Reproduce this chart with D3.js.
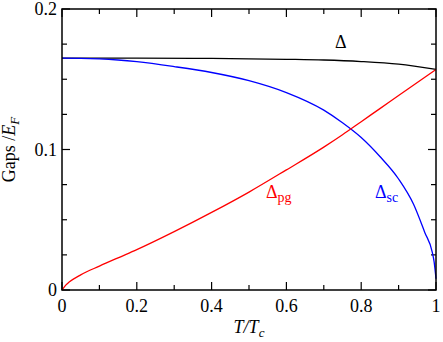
<!DOCTYPE html>
<html>
<head>
<meta charset="utf-8">
<script src="https://cdn.jsdelivr.net/npm/d3@7"></script>
<style>
  body { margin: 0; background: #fff; }
</style>
</head>
<body>
<div id="chart"></div>
<script>
// values
var tDelta = [0, 0.2, 0.4, 0.6, 0.7, 0.8, 0.9, 1.0];
var delta  = [0.165, 0.165, 0.1648, 0.1642, 0.1637, 0.1626, 0.1607, 0.157];

var tSc   = [0, 0.05, 0.1, 0.15, 0.2, 0.3, 0.4, 0.5, 0.6, 0.7, 0.75, 0.8, 0.85, 0.9, 0.94, 0.97, 0.99, 0.995, 1.0];
var deltaSc = [0.165, 0.1649, 0.1645, 0.1637, 0.1625, 0.159, 0.1548, 0.149, 0.1405, 0.128, 0.119, 0.1085, 0.095, 0.079, 0.061, 0.041, 0.027, 0.02, 0.008];

var tPg   = [0, 0.01, 0.02, 0.05, 0.1, 0.15, 0.2, 0.3, 0.4, 0.5, 0.6, 0.7, 0.75, 0.8, 0.85, 0.9, 0.95, 1.0];
var deltaPg = [0, 0.0035, 0.0058, 0.0108, 0.017, 0.0229, 0.0287, 0.0415, 0.0552, 0.0697, 0.0855, 0.1017, 0.1105, 0.1198, 0.1291, 0.1384, 0.1477, 0.157];

var xMajor = [0, 0.2, 0.4, 0.6, 0.8, 1];
var xLabels = ['0', '0.2', '0.4', '0.6', '0.8', '1'];
var yMajor = [0, 0.1, 0.2];
var yLabels = ['0', '0.1', '0.2'];

var width = 443, height = 342,
    margin = {left: 62, right: 7, top: 9, bottom: 52};

var svg = d3.select('div#chart').append('svg')
    .attr('width', width)
    .attr('height', height)
    .attr('font-family', "'Liberation Serif', 'Times New Roman', 'DejaVu Serif', serif");

var x = d3.scaleLinear().domain([0, 1]).range([margin.left, width - margin.right]);
var y = d3.scaleLinear().domain([0, 0.2]).range([height - margin.bottom, margin.top]);

var x0 = x(0), x1 = x(1), y0 = y(0), y1 = y(0.2);

// ticks on all four sides, pointing inward
var xMinor = d3.range(0, 1.0001, 0.1);
var yMinor = d3.range(0, 0.2001, 0.025);
function isMajor(v, arr) { return arr.some(function (m) { return Math.abs(m - v) < 1e-6; }); }

var tk = svg.append('g').attr('stroke', '#000').attr('stroke-width', 1.2);
xMinor.forEach(function (v) {
    var len = isMajor(v, xMajor) ? 8 : 5;
    tk.append('line').attr('x1', x(v)).attr('x2', x(v)).attr('y1', y0).attr('y2', y0 - len);
    tk.append('line').attr('x1', x(v)).attr('x2', x(v)).attr('y1', y1).attr('y2', y1 + len);
});
yMinor.forEach(function (v) {
    var len = isMajor(v, yMajor) ? 8 : 5;
    tk.append('line').attr('x1', x0).attr('x2', x0 + len).attr('y1', y(v)).attr('y2', y(v));
    tk.append('line').attr('x1', x1).attr('x2', x1 - len).attr('y1', y(v)).attr('y2', y(v));
});

// tick labels
svg.append('g').selectAll('text').data(xMajor).enter().append('text')
    .attr('x', function (d) { return x(d); })
    .attr('y', y0 + 22)
    .attr('text-anchor', 'middle')
    .attr('font-size', 18)
    .text(function (d, i) { return xLabels[i]; });

svg.append('g').selectAll('text').data(yMajor).enter().append('text')
    .attr('x', x0 - 5)
    .attr('y', function (d) { return y(d) + 6; })
    .attr('text-anchor', 'end')
    .attr('font-size', 18)
    .text(function (d, i) { return yLabels[i]; });

// axis titles
var xt = svg.append('text')
    .attr('x', (x0 + x1) / 2)
    .attr('y', 333)
    .attr('text-anchor', 'middle')
    .attr('font-size', 18)
    .attr('font-style', 'italic');
xt.append('tspan').text('T/T');
xt.append('tspan').attr('font-size', 13).attr('dy', 4).text('c');

var yt = svg.append('text')
    .attr('transform', 'translate(15,' + ((y0 + y1) / 2) + ') rotate(-90)')
    .attr('text-anchor', 'middle')
    .attr('font-size', 18);
yt.append('tspan').text('Gaps /');
yt.append('tspan').attr('font-style', 'italic').text('E');
yt.append('tspan').attr('font-style', 'italic').attr('font-size', 13).attr('dy', 4).text('F');

// curves
var line = d3.line().curve(d3.curveMonotoneX)
    .x(function (d) { return x(d[0]); })
    .y(function (d) { return y(d[1]); });

function series(ts, vs) { return ts.map(function (t, i) { return [t, vs[i]]; }); }

svg.append('path').datum(series(tDelta, delta))
    .attr('d', line).attr('fill', 'none').attr('stroke', '#000').attr('stroke-width', 1.3);
svg.append('path').datum(series(tSc, deltaSc))
    .attr('d', line).attr('fill', 'none').attr('stroke', '#0000ff').attr('stroke-width', 1.3);
svg.append('path').datum(series(tPg, deltaPg))
    .attr('d', line).attr('fill', 'none').attr('stroke', '#ff0000').attr('stroke-width', 1.3);

// frame
svg.append('rect')
    .attr('x', x0).attr('y', y1)
    .attr('width', x1 - x0).attr('height', y0 - y1)
    .attr('fill', 'none').attr('stroke', '#000').attr('stroke-width', 1.5);

// curve labels
svg.append('text').attr('x', 335).attr('y', 48).attr('font-size', 18).text('Δ');

var lp = svg.append('text').attr('x', 266).attr('y', 198).attr('font-size', 18).attr('fill', '#ff0000');
lp.append('tspan').text('Δ');
lp.append('tspan').attr('font-size', 14).attr('dy', 4).text('pg');

var ls = svg.append('text').attr('x', 375).attr('y', 198).attr('font-size', 18).attr('fill', '#0000ff');
ls.append('tspan').text('Δ');
ls.append('tspan').attr('font-size', 14).attr('dy', 4).text('sc');
</script>
</body>
</html>
